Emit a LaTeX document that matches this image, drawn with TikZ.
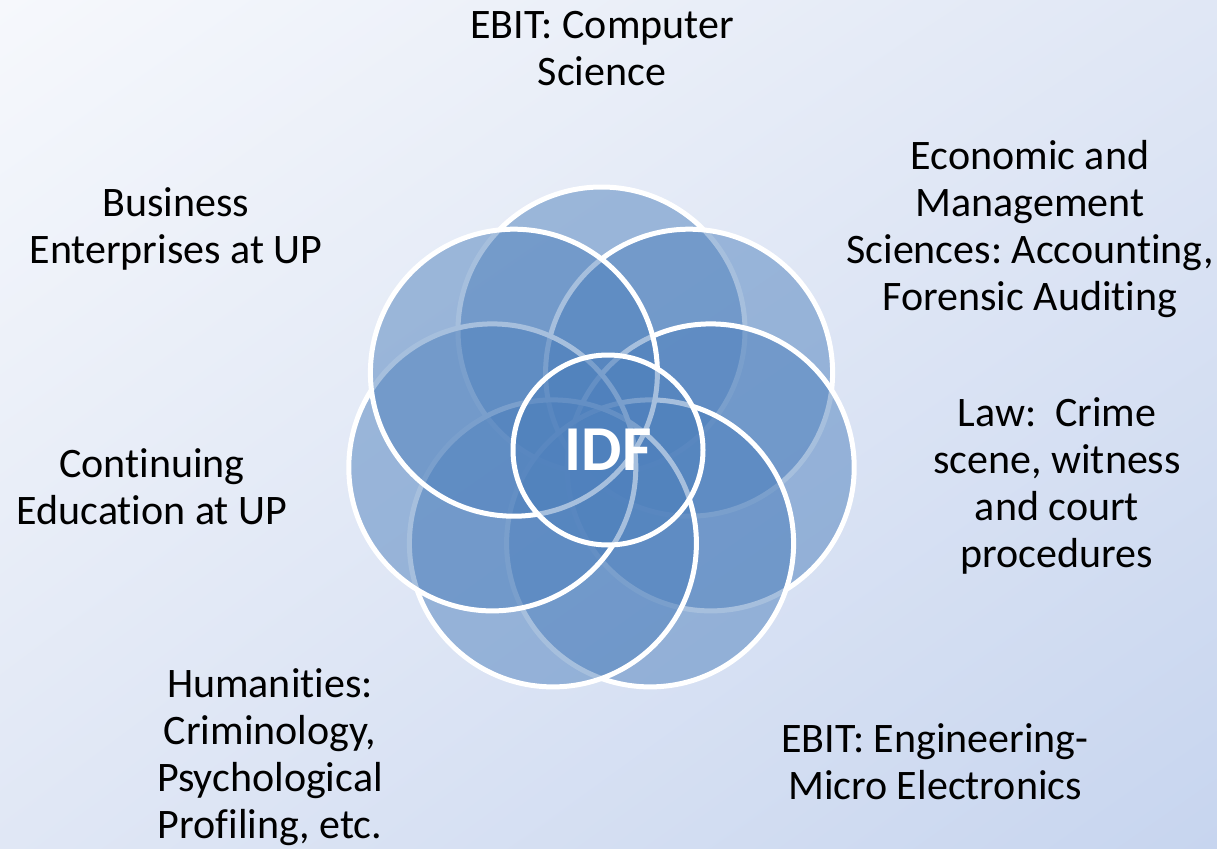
\documentclass[tikz,border=0pt]{standalone}
\usepackage{fontspec}
\setmainfont{Carlito}[Ligatures=NoCommon]
\usepackage{tikz}
\usetikzlibrary{shadings}
\frenchspacing
\definecolor{bleuidf}{RGB}{79,129,189}
\definecolor{fondhaut}{RGB}{246,248,252}
\definecolor{fondbas}{RGB}{199,213,239}
\definecolor{fondmilieu}{RGB}{224,231,245}
\tikzstyle{cercle} = [circle, draw=white, line width=5pt, fill=bleuidf, fill opacity=0.5, draw opacity=1, minimum size=287pt, inner sep=0pt]
\tikzstyle{texte} = [align=center, font=\fontsize{42}{47}\selectfont, text=black]

\begin{document}
\begin{tikzpicture}[x=1pt,y=-1pt]

        \shade [upper left=fondhaut, upper right=fondmilieu, lower left=fondmilieu, lower right=fondbas] (0,0) rectangle (1217,848);
        \useasboundingbox (0,0) rectangle (1217,848);

        \node (C1) [cercle] at (601.5,330.5) {};
        \node (C2) [cercle] at (689.1,372.7) {};
        \node (C3) [cercle] at (710.7,467.4) {};
        \node (C4) [cercle] at (650.1,543.4) {};
        \node (C5) [cercle] at (552.9,543.4) {};
        \node (C6) [cercle] at (492.3,467.4) {};
        \node (C7) [cercle] at (513.9,372.7) {};
        \node (IDF) [cercle, minimum size=190pt, text opacity=1, text=white, font=\fontsize{64}{70}\selectfont\bfseries] at (608,450) {IDF};

        \node (T1) [texte] at (602,49) {EBIT: Computer\\Science};
        \node (T2) [texte] at (1030,229) {Economic and\\Management\\Sciences: Accounting,\\Forensic Auditing};
        \node (T3) [texte] at (1057,486) {Law:\ \ Crime\\scene, witness\\and court\\procedures};
        \node (T4) [texte] at (935,762) {EBIT: Engineering-\\Micro Electronics};
        \node (T5) [texte] at (270,757) {Humanities:\\Criminology,\\Psychological\\Profiling, etc.};
        \node (T6) [texte] at (152,487) {Continuing\\Education at UP};
        \node (T7) [texte] at (176,229) {Business\\Enterprises at UP};

    \end{tikzpicture}
\end{document}
